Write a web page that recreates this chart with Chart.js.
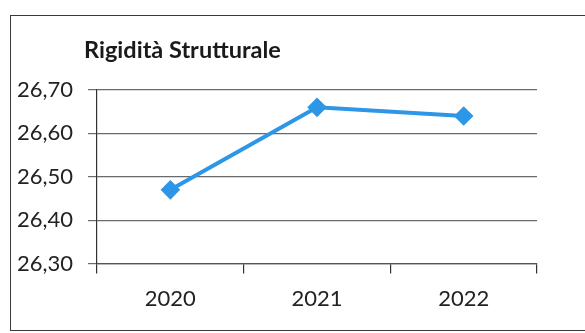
<!DOCTYPE html>
<html>
<head>
<meta charset="utf-8">
<script src="https://cdn.jsdelivr.net/npm/chart.js@4.4.1/dist/chart.umd.min.js"></script>
<style>
  html, body { margin: 0; padding: 0; background: #fff; }
  #wrap { position: relative; width: 585px; height: 333px; overflow: hidden; }
  #frame { position: absolute; left: 10px; top: 15px; width: 640px; height: 316px;
           border: 1.5px solid #3a3a3a; box-sizing: border-box; }
  canvas { position: absolute; left: 0; top: 0; }
</style>
</head>
<body>
<div id="wrap">
  <div id="frame"></div>
  <canvas id="c" width="585" height="333"></canvas>
</div>
<script>
// Anni e valori della rigidità strutturale
const anni = ['2020', '2021', '2022'];
const rigidita = [26.47, 26.66, 26.64];
const titolo = 'Rigidità Strutturale';
const asseMin = 26.30;
const asseMax = 26.70;
const passo = 0.10;

const FONT = 'Lato, "Open Sans", sans-serif';

// Titolo disegnato a sinistra, sopra l'area del grafico
const titoloPlugin = {
  id: 'titoloSinistra',
  afterDraw(chart) {
    const ctx = chart.ctx;
    ctx.save();
    ctx.font = 'bold 23.5px ' + FONT;
    ctx.fillStyle = '#1a1a1a';
    ctx.textAlign = 'left';
    ctx.textBaseline = 'alphabetic';
    ctx.fillText(titolo, chart.chartArea.left - 13, 58);
    ctx.restore();
  }
};

new Chart(document.getElementById('c'), {
  type: 'line',
  data: {
    labels: anni,
    datasets: [{
      data: rigidita,
      borderColor: '#2d96e6',
      backgroundColor: '#2d96e6',
      borderWidth: 4,
      pointStyle: 'rectRot',
      pointRadius: 7,
      pointHoverRadius: 7,
      tension: 0
    }]
  },
  options: {
    responsive: false,
    animation: false,
    layout: { padding: { left: 2, right: 48, top: 90, bottom: 9 } },
    plugins: { legend: { display: false }, tooltip: { enabled: false }, title: { display: false } },
    scales: {
      x: {
        offset: true,
        grid: { offset: true, drawOnChartArea: false, drawTicks: true, tickLength: 10, color: '#333', lineWidth: 1.2 },
        border: { display: true, color: '#555', width: 1.2 },
        ticks: { color: '#222', font: { family: FONT, size: 22 }, padding: 12 }
      },
      y: {
        min: asseMin,
        max: asseMax,
        grid: { drawTicks: true, tickLength: 9, color: '#6a6a6a', lineWidth: 1.2 },
        border: { display: true, color: '#333', width: 1.2 },
        ticks: {
          stepSize: passo,
          color: '#222',
          font: { family: FONT, size: 22 },
          padding: 15,
          callback: v => v.toFixed(2).replace('.', ',')
        }
      }
    }
  },
  plugins: [titoloPlugin]
});
</script>
</body>
</html>
